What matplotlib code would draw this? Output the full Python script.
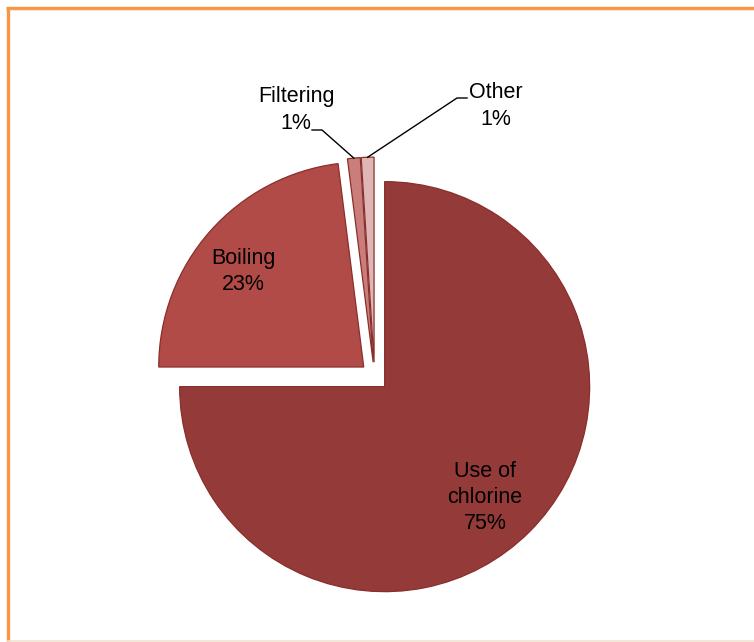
import numpy as np
import matplotlib
matplotlib.use("Agg")
from matplotlib import pyplot as plt
from matplotlib.lines import Line2D

# water treatment methods, share in percent
methods = ["Use of\nchlorine", "Boiling", "Filtering", "Other"]
shares = [75, 23, 1, 1]
colors = ["#943A38", "#B14B48", "#C97E7C", "#DEB6B5"]

plt.rcParams['font.family'] = ['Liberation Sans', 'DejaVu Sans']

W, H = 754, 642
fig = plt.figure(figsize=(W / 100, H / 100), dpi=100)

# pie centre and radius in pixels, axes limits follow from these
cx, cy, R = 374.5, 376.5, 205.0
ax = fig.add_axes([0, 0, 1, 1])
explode = [0.07] * len(shares)
wedges, _ = ax.pie(shares, colors=colors, explode=explode, startangle=90,
                   counterclock=False, radius=1.0,
                   wedgeprops=dict(edgecolor="#8A2E2C", linewidth=0.9))
ax.set_xlim(-cx / R, (W - cx) / R)
ax.set_ylim(-(H - cy) / R, cy / R)
ax.set_aspect('auto')
ax.axis('off')

def px(x, y):
    # pixel position (from top left) -> data coords
    return (x - cx) / R, (cy - y) / R

# mid angles, clockwise from 12 o'clock
cum = np.cumsum([0] + shares)
mids = (cum[:-1] + cum[1:]) / 2 / sum(shares) * 360

def polar(ang, r):
    a = np.radians(ang)
    return r * np.sin(a), r * np.cos(a)

fs = 15.5
ls = 1.32
# labels inside the two big slices
x, y = polar(mids[0] + 2.7, 0.80)
ax.text(x, y, f"{methods[0]}\n{shares[0]}%", ha='center', va='center',
        fontsize=fs, linespacing=ls)
x, y = polar(mids[1] - 2.7, 0.82)
ax.text(x, y, f"{methods[1]}\n{shares[1]}%", ha='center', va='center',
        fontsize=fs, linespacing=ls)

# small slices get labels outside with leader lines
tx, ty = px(296, 110)
ax.text(tx, ty, f"{methods[2]}\n{shares[2]}%", ha='center', va='center',
        fontsize=fs, linespacing=ls)
ex, ey = polar(mids[2], 1.0 + explode[2])
p1, p2 = px(312, 130), px(322, 130)
ax.plot([p1[0], p2[0], ex], [p1[1], p2[1], ey], color='black', lw=1)

tx, ty = px(496, 106)
ax.text(tx, ty, f"{methods[3]}\n{shares[3]}%", ha='center', va='center',
        fontsize=fs, linespacing=ls)
ex, ey = polar(mids[3], 1.0 + explode[3])
p1, p2 = px(467, 98), px(457, 98)
ax.plot([p1[0], p2[0], ex], [p1[1], p2[1], ey], color='black', lw=1)

# orange chart frame (left and top), faint line along the bottom
fx, fy = 7.5 / W, 1 - 7.5 / H
fig.add_artist(Line2D([fx, fx], [0, fy], transform=fig.transFigure,
                      color='#F79646', lw=2.4, solid_capstyle='butt'))
fig.add_artist(Line2D([fx - 1.2 / W, 1], [fy, fy], transform=fig.transFigure,
                      color='#F79646', lw=2.4, solid_capstyle='butt'))
fig.add_artist(Line2D([fx + 2 / W, 1], [fy - 2.5 / H, fy - 2.5 / H],
                      transform=fig.transFigure, color='#FCE3CF', lw=0.8))
fig.add_artist(Line2D([fx, 1], [0.8 / H, 0.8 / H], transform=fig.transFigure,
                      color='#F3E3CF', lw=1.2))

fig.savefig("out.png", dpi=100)
